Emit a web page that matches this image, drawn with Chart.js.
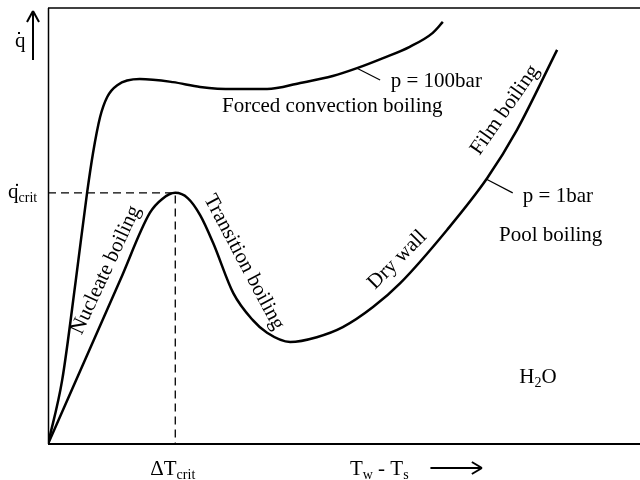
<!DOCTYPE html>
<html>
<head>
<meta charset="utf-8">
<script src="https://cdn.jsdelivr.net/npm/chart.js"></script>
<style>
body { margin: 0; background: #fff; }
#wrap { width: 640px; height: 480px; }
</style>
</head>
<body>
<div id="wrap"><canvas id="myChart"></canvas></div>
<script>
// wall superheat and heat flux, arbitrary units 0..100
const poolX = [0, 12.2, 17.2, 19.3, 21.5, 23.6, 25.7, 27.9, 31.3, 34.6, 37.0, 40.9, 45.4, 49.8, 54.9, 59.5, 67.4, 74.2, 79.2, 86.0];
const poolY = [0, 37.6, 53.0, 56.2, 57.6, 56.4, 52.5, 46.1, 34.6, 28.4, 25.5, 23.4, 24.5, 26.8, 31.4, 36.9, 49.1, 61.0, 72.0, 90.4];
const forcedX = [0, 2.4, 4.7, 6.6, 7.6, 8.8, 10.0, 11.7, 15.5, 21.1, 25.7, 31.3, 37.0, 42.6, 48.1, 52.2, 56.6, 61.1, 65.0, 66.7];
const forcedY = [0, 14.7, 37.6, 57.6, 66.7, 75.0, 79.6, 82.3, 83.7, 83.0, 81.9, 81.4, 81.4, 82.8, 84.4, 86.2, 88.5, 91.1, 94.3, 96.8];
const critX = 21.5;
const critY = 57.6;

const FONT = '"Liberation Serif", "Times New Roman", serif';

function pts(xs, ys) {
  return xs.map((x, i) => ({ x: x, y: ys[i] }));
}

function line(ctx, x1, y1, x2, y2, w) {
  ctx.beginPath();
  ctx.lineWidth = w;
  ctx.moveTo(x1, y1);
  ctx.lineTo(x2, y2);
  ctx.stroke();
}

// text with an optional subscript, starting at x (left), baseline y
function subText(ctx, main, sub, x, y, size) {
  ctx.font = size + 'px ' + FONT;
  ctx.textAlign = 'left';
  ctx.textBaseline = 'alphabetic';
  ctx.fillText(main, x, y);
  let w = ctx.measureText(main).width;
  if (sub) {
    ctx.font = Math.round(size * 0.68) + 'px ' + FONT;
    ctx.fillText(sub, x + w, y + 4);
    w += ctx.measureText(sub).width;
  }
  return x + w;
}

const frame = {
  id: 'frame',
  beforeDatasetsDraw(chart) {
    const ctx = chart.ctx, a = chart.chartArea;
    ctx.save();
    ctx.strokeStyle = '#000';
    line(ctx, a.left, a.top, a.right, a.top, 1.5);
    line(ctx, a.left + 0.5, a.top, a.left + 0.5, a.bottom, 1.5);
    line(ctx, a.left, a.bottom, a.right, a.bottom, 2);
    ctx.restore();
  }
};

const notes = {
  id: 'notes',
  afterDatasetsDraw(chart) {
    const ctx = chart.ctx, a = chart.chartArea;
    const X = v => chart.scales.x.getPixelForValue(v);
    const Y = v => chart.scales.y.getPixelForValue(v);
    ctx.save();
    ctx.fillStyle = '#000';
    ctx.strokeStyle = '#000';

    // flat labels
    subText(ctx, 'Forced convection boiling', '', X(29.4), Y(76.1), 21);
    subText(ctx, 'p = 100bar', '', X(57.9), Y(81.9), 21);
    subText(ctx, 'p = 1bar', '', X(80.2), Y(55.5), 21);
    subText(ctx, 'Pool boiling', '', X(76.2), Y(46.6), 21);
    let e = subText(ctx, 'H', '2', X(79.6), Y(14.0), 21);
    subText(ctx, 'O', '', e, Y(14.0), 21);

    // pointer ticks
    line(ctx, X(52.2), Y(86.2), X(56.1), Y(83.5), 1.2);
    line(ctx, X(74.0), Y(60.8), X(78.5), Y(57.6), 1.2);

    // labels along the curve
    const rot = [
      ['Nucleate boiling', 9.8, 39.9, -65],
      ['Transition boiling', 33.1, 41.7, 62],
      ['Dry wall', 59.0, 42.2, -45],
      ['Film boiling', 77.2, 76.6, -55]
    ];
    ctx.font = '21px ' + FONT;
    ctx.textAlign = 'center';
    ctx.textBaseline = 'middle';
    rot.forEach(r => {
      ctx.save();
      ctx.translate(X(r[1]), Y(r[2]));
      ctx.rotate(r[3] * Math.PI / 180);
      ctx.fillText(r[0], 0, 0);
      ctx.restore();
    });

    // y axis: q-dot and arrow
    subText(ctx, 'q', '', a.left - 33, a.top + 39, 21);
    ctx.fillRect(a.left - 30, a.top + 24, 2, 2);
    line(ctx, a.left - 15, a.top + 52, a.left - 15, a.top + 3, 2);
    line(ctx, a.left - 15, a.top + 3, a.left - 21, a.top + 14, 2);
    line(ctx, a.left - 15, a.top + 3, a.left - 9, a.top + 14, 2);

    // q-dot crit
    const yc = Y(critY);
    subText(ctx, 'q', 'crit', a.left - 40, yc + 5, 21);
    ctx.fillRect(a.left - 32, yc - 9, 2, 2);

    // x axis labels
    subText(ctx, '\u0394T', 'crit', X(critX) - 25, a.bottom + 31, 21);
    let t = subText(ctx, 'T', 'w', X(51.0), a.bottom + 31, 21);
    subText(ctx, ' - T', 's', t, a.bottom + 31, 21);
    const ay = a.bottom + 24;
    line(ctx, X(64.6), ay, X(73.3), ay, 2);
    line(ctx, X(73.3), ay, X(71.6), ay - 6, 2);
    line(ctx, X(73.3), ay, X(71.6), ay + 6, 2);
    ctx.restore();
  }
};

const data = {
  datasets: [
    {
      label: 'p = 1bar',
      data: pts(poolX, poolY),
      borderColor: '#000',
      borderWidth: 2.5,
      cubicInterpolationMode: 'monotone',
      pointRadius: 0
    },
    {
      label: 'p = 100bar',
      data: pts(forcedX, forcedY),
      borderColor: '#000',
      borderWidth: 2.5,
      cubicInterpolationMode: 'monotone',
      pointRadius: 0
    },
    {
      label: 'crit',
      data: [{ x: 0, y: critY }, { x: critX, y: critY }, { x: critX, y: 0 }],
      borderColor: '#000',
      borderWidth: 1.3,
      borderDash: [8, 5],
      tension: 0,
      pointRadius: 0
    }
  ]
};

const config = {
  type: 'line',
  data: data,
  options: {
    responsive: true,
    maintainAspectRatio: false,
    animation: false,
    layout: { padding: { left: 48, top: 8, right: 0, bottom: 36 } },
    plugins: { legend: { display: false }, tooltip: { enabled: false } },
    scales: {
      x: { type: 'linear', min: 0, max: 100, display: false },
      y: { type: 'linear', min: 0, max: 100, display: false }
    }
  },
  plugins: [frame, notes]
};

var myChart = new Chart(document.getElementById('myChart'), config);
</script>
</body>
</html>
